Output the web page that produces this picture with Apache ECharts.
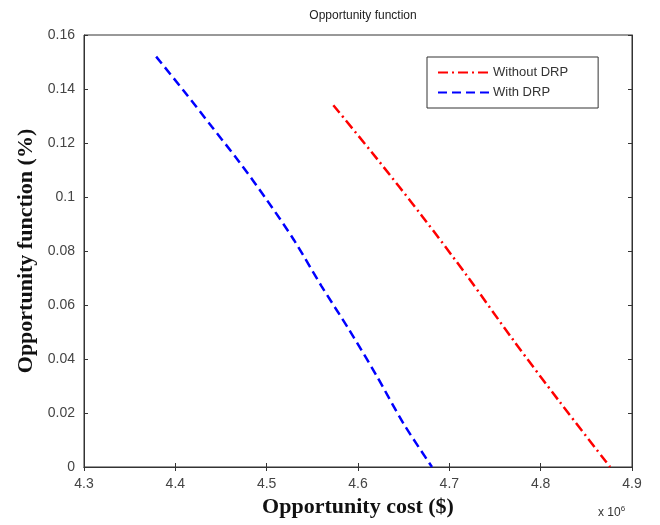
<!DOCTYPE html>
<html><head><meta charset="utf-8">
<script src="https://cdn.jsdelivr.net/npm/echarts@6/dist/echarts.min.js"></script>
<style>html,body{margin:0;padding:0;background:#fff}#c{width:660px;height:525px}</style>
</head><body><div id="c"></div>
<script>
// x values in units of 10^6 $
var withoutDRP_x = [4.573, 4.62, 4.67, 4.72, 4.77, 4.82, 4.876];
var withoutDRP_y = [0.134, 0.1145, 0.093, 0.0705, 0.047, 0.0245, 0];
var withDRP_x = [4.379, 4.41, 4.44, 4.47, 4.50, 4.53, 4.56, 4.59, 4.62, 4.65, 4.681];
var withDRP_y = [0.152, 0.139, 0.126, 0.113, 0.099, 0.084, 0.067, 0.051, 0.034, 0.016, 0];
var seriesNames = ['Without DRP', 'With DRP'];
var titleText = 'Opportunity function';
var xName = 'Opportunity cost ($)';
var yName = 'Opportunity function (%)';

function pairs(xs, ys){ return xs.map(function(x,i){ return [x, ys[i]]; }); }

var chart = echarts.init(document.getElementById('c'));
var axisCol = '#333';
var lab = {color:'#444', fontFamily:'Liberation Sans, Arial, sans-serif', fontSize:14};
chart.setOption({
  animation:false,
  title:{text:titleText, left:358, top:5, textAlign:'center',
    textStyle:{fontFamily:'Liberation Sans, Arial, sans-serif', fontSize:12, fontWeight:'normal', color:'#222'}},
  grid:{left:84, right:28, top:35, bottom:58, show:true, borderColor:axisCol, borderWidth:1},
  legend:{
    orient:'vertical', left:427, top:57,
    padding:[9,30,9,10], itemGap:7, itemWidth:53, itemHeight:14,
    borderColor:'#333', borderWidth:1, backgroundColor:'#fff',
    itemStyle:{opacity:0},
    textStyle:{color:'#333', fontFamily:'Liberation Sans, Arial, sans-serif', fontSize:13, padding:[0,0,0,-3]},
    data:seriesNames
  },
  xAxis:[{
    type:'value', min:4.3, max:4.9, interval:0.1,
    axisLine:{lineStyle:{color:axisCol}}, axisTick:{inside:true, length:4, lineStyle:{color:axisCol}},
    splitLine:{show:false},
    axisLabel:Object.assign({margin:10, formatter:function(v){return (+v.toFixed(1)).toString();}}, lab),
    name:xName, nameLocation:'middle', nameGap:29,
    nameTextStyle:{fontFamily:'Liberation Serif, Times New Roman, serif', fontSize:22, fontWeight:'bold', color:'#111'}
  },{
    type:'value', position:'top', min:4.3, max:4.9, interval:0.1,
    axisLine:{lineStyle:{color:axisCol}}, axisTick:{inside:true, length:4, lineStyle:{color:axisCol}},
    axisLabel:{show:false}, splitLine:{show:false}
  }],
  yAxis:[{
    type:'value', min:0, max:0.16, interval:0.02,
    axisLine:{show:true, lineStyle:{color:axisCol}}, axisTick:{show:true, inside:true, length:4, lineStyle:{color:axisCol}},
    splitLine:{show:false},
    axisLabel:Object.assign({margin:9, formatter:function(v){return (+v.toFixed(2)).toString();}}, lab),
    name:yName, nameLocation:'middle', nameGap:40,
    nameTextStyle:{fontFamily:'Liberation Serif, Times New Roman, serif', fontSize:22, fontWeight:'bold', color:'#111'}
  },{
    type:'value', position:'right', min:0, max:0.16, interval:0.02,
    axisLine:{show:true, lineStyle:{color:axisCol}}, axisTick:{show:true, inside:true, length:4, lineStyle:{color:axisCol}},
    axisLabel:{show:false}, splitLine:{show:false}
  }],
  graphic:[{
    type:'text', left:598, top:505,
    style:{text:'x 10{s|6}', fill:'#333', font:'12px Liberation Sans, Arial, sans-serif',
      rich:{s:{fontSize:8, verticalAlign:'top', padding:[0,0,8,0], fill:'#333'}}}
  }],
  series:[{
    name:seriesNames[0], type:'line', data:pairs(withoutDRP_x, withoutDRP_y),
    showSymbol:false, symbol:'none', smooth:0.3, color:'#ff0000',
    lineStyle:{color:'#ff0000', width:2.5, type:[10,4,2,4]}
  },{
    name:seriesNames[1], type:'line', data:pairs(withDRP_x, withDRP_y),
    showSymbol:false, symbol:'none', smooth:0.3, color:'#0000ff',
    lineStyle:{color:'#0000ff', width:2.5, type:[9,5]}
  }]
});
</script></body></html>
